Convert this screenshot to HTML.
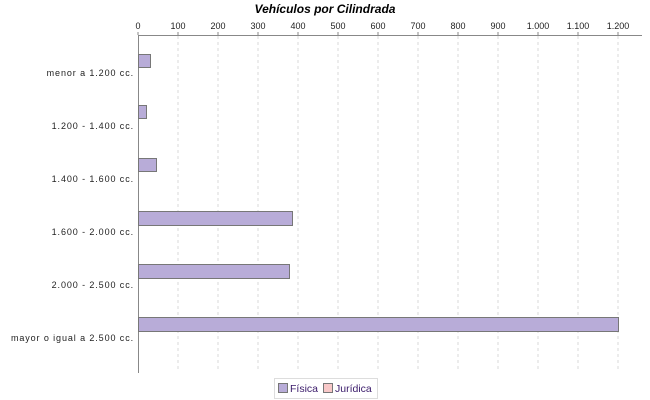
<!DOCTYPE html>
<html><head><meta charset="utf-8"><style>
body{margin:0;background:#fff;}
svg{display:block;font-family:"Liberation Sans",sans-serif;}
</style></head><body>
<svg width="650" height="400" xmlns="http://www.w3.org/2000/svg">
<rect width="650" height="400" fill="#fff"/>
<text x="325" y="13" text-anchor="middle" font-size="12" font-weight="bold" font-style="italic">Vehículos por Cilindrada</text>
<g stroke="#d8d8d8" stroke-dasharray="3,3">
<line x1="178" y1="36" x2="178" y2="372"/><line x1="218" y1="36" x2="218" y2="372"/>
<line x1="258" y1="36" x2="258" y2="372"/><line x1="298" y1="36" x2="298" y2="372"/>
<line x1="338" y1="36" x2="338" y2="372"/><line x1="378" y1="36" x2="378" y2="372"/>
<line x1="418" y1="36" x2="418" y2="372"/><line x1="458" y1="36" x2="458" y2="372"/>
<line x1="498" y1="36" x2="498" y2="372"/><line x1="538" y1="36" x2="538" y2="372"/>
<line x1="578" y1="36" x2="578" y2="372"/><line x1="618" y1="36" x2="618" y2="372"/>
</g>
<line x1="138" y1="35.5" x2="642" y2="35.5" stroke="#888"/>
<line x1="138.5" y1="35" x2="138.5" y2="373" stroke="#888"/>
<g stroke="#888">
<line x1="138" y1="32" x2="138" y2="35"/><line x1="178" y1="32" x2="178" y2="35"/><line x1="218" y1="32" x2="218" y2="35"/><line x1="258" y1="32" x2="258" y2="35"/><line x1="298" y1="32" x2="298" y2="35"/><line x1="338" y1="32" x2="338" y2="35"/><line x1="378" y1="32" x2="378" y2="35"/><line x1="418" y1="32" x2="418" y2="35"/><line x1="458" y1="32" x2="458" y2="35"/><line x1="498" y1="32" x2="498" y2="35"/><line x1="538" y1="32" x2="538" y2="35"/><line x1="578" y1="32" x2="578" y2="35"/><line x1="618" y1="32" x2="618" y2="35"/>
</g>
<g font-size="9" text-anchor="middle" fill="#222">
<text x="138" y="29">0</text><text x="178" y="29">100</text><text x="218" y="29">200</text><text x="258" y="29">300</text><text x="298" y="29">400</text><text x="338" y="29">500</text><text x="378" y="29">600</text><text x="418" y="29">700</text><text x="458" y="29">800</text><text x="498" y="29">900</text><text x="538" y="29">1.000</text><text x="578" y="29">1.100</text><text x="618" y="29">1.200</text>
</g>
<g fill="#b8acd8" stroke="#777">
<rect x="138.5" y="54.5" width="12" height="13"/>
<rect x="138.5" y="105.5" width="8" height="13"/>
<rect x="138.5" y="158.5" width="18" height="13"/>
<rect x="138.5" y="211.5" width="154" height="14"/>
<rect x="138.5" y="264.5" width="151" height="14"/>
<rect x="138.5" y="317.5" width="480" height="14"/>
</g>
<g font-size="9" text-anchor="end" fill="#222" letter-spacing="0.9">
<text x="134" y="76">menor a 1.200 cc.</text>
<text x="134" y="129">1.200 - 1.400 cc.</text>
<text x="134" y="182">1.400 - 1.600 cc.</text>
<text x="134" y="235">1.600 - 2.000 cc.</text>
<text x="134" y="288">2.000 - 2.500 cc.</text>
<text x="134" y="341">mayor o igual a 2.500 cc.</text>
</g>
<rect x="274.5" y="378.5" width="103" height="20" fill="#fff" stroke="#ddd"/>
<rect x="278.5" y="383.5" width="9" height="9" fill="#b8acd8" stroke="#777"/>
<text x="290" y="392" font-size="10.5" fill="#3a1a6a">Física</text>
<rect x="323.5" y="383.5" width="9" height="9" fill="#f8c8c8" stroke="#777"/>
<text x="335" y="392" font-size="10.5" fill="#3a1a6a">Jurídica</text>
</svg>
</body></html>
